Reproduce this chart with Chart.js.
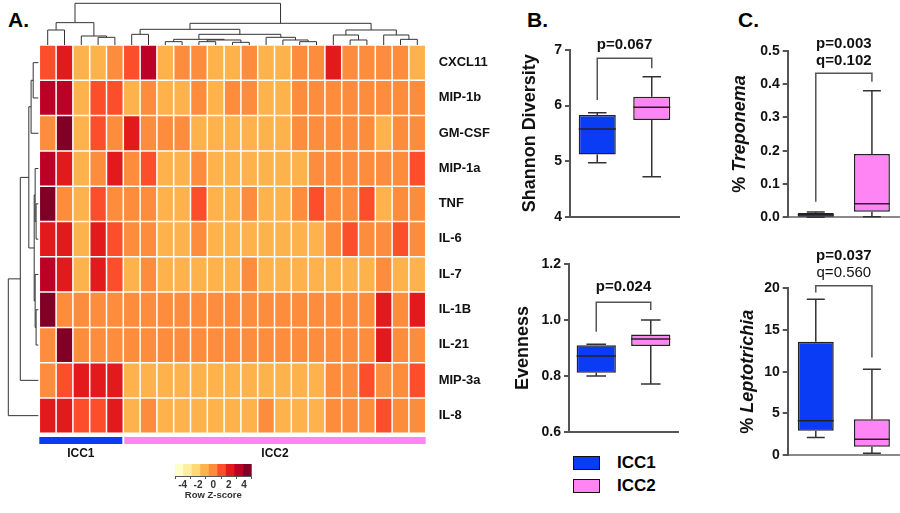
<!DOCTYPE html>
<html><head><meta charset="utf-8">
<script src="https://cdn.jsdelivr.net/npm/chart.js@4.4.1/dist/chart.umd.min.js"></script>
<style>
body{margin:0;background:#fff;width:900px;height:513px;overflow:hidden;position:relative;font-family:'Liberation Sans',Arial,sans-serif}
canvas{position:absolute}
.lbl{position:absolute;font-weight:bold;color:#000;line-height:21px;white-space:nowrap}
.sw{position:absolute;width:27px;height:14px;border:1.5px solid #111;box-sizing:border-box}
</style></head><body>
<div class="lbl" style="left:8px;top:9px;font-size:21px">A.</div>
<div class="lbl" style="left:527px;top:9px;font-size:21px">B.</div>
<div class="lbl" style="left:738px;top:9px;font-size:21px">C.</div>

<canvas id="heat" width="490" height="513" style="left:0;top:0;width:490px;height:513px"></canvas>
<canvas id="zleg" width="130" height="58" style="left:150px;top:455px;width:130px;height:58px"></canvas>
<canvas id="bTop" width="200" height="200" style="left:490px;top:30px;width:200px;height:200px"></canvas>
<canvas id="bBot" width="200" height="210" style="left:490px;top:240px;width:200px;height:210px"></canvas>
<canvas id="cTop" width="210" height="200" style="left:690px;top:30px;width:210px;height:200px"></canvas>
<canvas id="cBot" width="210" height="230" style="left:690px;top:240px;width:210px;height:230px"></canvas>

<div class="sw" style="left:573px;top:456px;background:#0a3cf5"></div>
<div class="lbl" style="left:617px;top:452px;font-size:17px">ICC1</div>
<div class="sw" style="left:573px;top:479px;background:#ff85f5"></div>
<div class="lbl" style="left:617px;top:475px;font-size:17px">ICC2</div>

<script>
const FF = "'Liberation Sans', Arial, sans-serif";
Chart.defaults.font.family = FF;

// ---------- Panel A data ----------
const rowLabels = ['CXCL11','MIP-1b','GM-CSF','MIP-1a','TNF','IL-6','IL-7','IL-1B','IL-21','MIP-3a','IL-8'];
const sampleGroup = ['ICC1','ICC1','ICC1','ICC1','ICC1',
  'ICC2','ICC2','ICC2','ICC2','ICC2','ICC2','ICC2','ICC2','ICC2','ICC2','ICC2','ICC2','ICC2','ICC2','ICC2','ICC2','ICC2','ICC2'];
const zCXCL11 = [0.9,1.8,-0.9,-0.9,0, 0.9,2.7,-0.9,0,0, -0.9,-0.9,0,-0.9,-0.9, 0,0,1.8,0,0, 0,0,-0.9];
const zMIP1b  = [2.7,2.7,-0.9,0.9,0.9, -0.9,0,-0.9,-0.9,0, -0.9,0,0,-0.9,-0.9, 0,0,0,0,0, 0,0,0];
const zGMCSF  = [0,3.6,-0.9,0.9,0, 1.8,0,0,0,-0.9, -0.9,-0.9,-0.9,-0.9,-0.9, 0,0,0,0,0, -0.9,0,0];
const zMIP1a  = [2.7,1.8,-0.9,0,1.8, 0,0.9,-0.9,-0.9,0, -0.9,-0.9,-0.9,-0.9,-0.9, -0.9,0,0,0,0, 0,0,0.9];
const zTNF    = [3.6,0,-0.9,0.9,0, 0,0,-0.9,-0.9,0.9, -0.9,-0.9,0,-0.9,-0.9, 0,0.9,0,0,0.9, -0.9,0,0];
const zIL6    = [1.8,1.8,-0.9,1.8,0.9, 0,0,-0.9,-0.9,0, -0.9,-0.9,-0.9,-0.9,-0.9, -0.9,-0.9,0,0.9,0, 0,0.9,0];
const zIL7    = [2.7,1.8,-0.9,1.8,0.9, -0.9,0,-0.9,-0.9,-0.9, -0.9,-0.9,0,-0.9,-0.9, -0.9,-0.9,-0.9,-0.9,-0.9, 0,-0.9,-0.9];
const zIL1B   = [3.6,0,0,0,0, 0,0,0,0,0, 0,0,0,0,0, 0,0,0,0,0, 1.8,0,1.8];
const zIL21   = [0,3.6,0,0,0, 0,0,0,0,0, 0,0,0,0,0, 0,0,0,0,0, 1.8,0,0];
const zMIP3a  = [0,0.9,1.8,1.8,1.8, -0.9,-0.9,-0.9,-0.9,-0.9, -0.9,-0.9,-0.9,-0.9,-0.9, -0.9,-0.9,0,0,0.9, 0,0,0.9];
const zIL8    = [1.8,1.8,0.9,0.9,1.8, -0.9,0,-0.9,-0.9,-0.9, -0.9,-0.9,-0.9,0,-0.9, -0.9,-0.9,0,0,0, 0.9,0,0];
const zRows = [zCXCL11,zMIP1b,zGMCSF,zMIP1a,zTNF,zIL6,zIL7,zIL1B,zIL21,zMIP3a,zIL8];

// hierarchical clustering trees: [height, left, right], leaves = index
const colTree = [1.0,
  [0.536, [0.36,0,1], [0.216,2,[0.184,3,4]]],
  [0.52,
    [0.376, [0.256,5,6],
      [0.256,
        [0.136,[0.08,7,8],[0.12,[0.08,9,10],[0.064,11,12]]],
        [0.184,13,[0.12,14,[0.08,15,16]]]]],
    [0.36, [0.24,17,[0.12,18,19]], [0.24,20,[0.136,21,22]]]]];
const rowTree = [1.0,
  [0.6,
    [0.316, [0.24,[0.17,0,1],2],
      [0.137,[0.105,3,[0.074,4,5]],[0.105,6,[0.074,7,8]]]],
    9],
  10];

const zTickLabels = [-4,-2,0,2,4];
const zColors = ['#ffffcc','#ffeda0','#fed976','#feb24c','#fd8d3c','#fc4e2a','#e31a1c','#bd0026','#800026'];
const groupColors = {ICC1:'#0a3cf5', ICC2:'#ff85f5'};

// ---------- Panel B / C data: [min, q1, median, q3, max] ----------
const groups = ['ICC1','ICC2'];
const shannonICC1 = [4.97, 5.12, 5.58, 5.83, 5.87];
const shannonICC2 = [4.72, 5.74, 5.97, 6.16, 6.52];
const evenICC1 = [0.800, 0.811, 0.871, 0.910, 0.913];
const evenICC2 = [0.771, 0.907, 0.932, 0.948, 1.000];
const trepICC1 = [0.000, 0.002, 0.008, 0.013, 0.016];
const trepICC2 = [0.002, 0.017, 0.041, 0.190, 0.380];
const leptICC1 = [2.1, 2.9, 4.1, 13.6, 18.7];
const leptICC2 = [0.2, 1.0, 1.9, 4.3, 10.3];

function zColor(z){
  let i = Math.floor((z+4)/8*zColors.length);
  return zColors[Math.max(0,Math.min(zColors.length-1,i))];
}

function layoutTree(node, pos){
  if(typeof node === 'number') return {p:pos(node), h:0};
  const a = layoutTree(node[1], pos), b = layoutTree(node[2], pos);
  return {p:(a.p+b.p)/2, h:node[0], kids:[a,b]};
}

const heatDecor = {
  id:'heatDecor',
  afterDraw(chart){
    const ctx = chart.ctx, ca = chart.chartArea, xs = chart.scales.x, ys = chart.scales.y;
    ctx.save();
    ctx.strokeStyle = '#333'; ctx.lineWidth = 1;
    // column dendrogram
    const topY = 3.3;
    const yOf = h => ca.top - h*(ca.top-topY);
    const ct = layoutTree(colTree, i => xs.getPixelForValue(i));
    (function draw(n){
      if(!n.kids) return;
      const y = yOf(n.h);
      ctx.beginPath();
      ctx.moveTo(n.kids[0].p, yOf(n.kids[0].h)); ctx.lineTo(n.kids[0].p, y);
      ctx.lineTo(n.kids[1].p, y); ctx.lineTo(n.kids[1].p, yOf(n.kids[1].h));
      ctx.stroke();
      n.kids.forEach(draw);
    })(ct);
    // row dendrogram
    const leftX = 8.3;
    const xOf = h => ca.left - 1 - h*(ca.left-1-leftX);
    const rt = layoutTree(rowTree, i => ys.getPixelForValue(i+0.5));
    (function draw(n){
      if(!n.kids) return;
      const x = xOf(n.h);
      ctx.beginPath();
      ctx.moveTo(xOf(n.kids[0].h), n.kids[0].p); ctx.lineTo(x, n.kids[0].p);
      ctx.lineTo(x, n.kids[1].p); ctx.lineTo(xOf(n.kids[1].h), n.kids[1].p);
      ctx.stroke();
      n.kids.forEach(draw);
    })(rt);
    // row labels (slightly wide lettering as in the figure)
    ctx.fillStyle = '#111'; ctx.font = 'bold 12px '+FF;
    ctx.textAlign = 'left'; ctx.textBaseline = 'middle';
    rowLabels.forEach((l,i)=>{
      ctx.save();
      ctx.translate(ca.right+13, ys.getPixelForValue(i+0.5));
      ctx.scale(1.08, 1);
      ctx.fillText(l, 0, 0);
      ctx.restore();
    });
    // group bars
    const half = (xs.getPixelForValue(1)-xs.getPixelForValue(0))/2;
    const gs = [...new Set(sampleGroup)];
    gs.forEach(g=>{
      const idx = sampleGroup.map((s,i)=>s===g?i:-1).filter(i=>i>=0);
      const x0 = xs.getPixelForValue(idx[0])-half + (idx[0]>0?1:0);
      const x1 = xs.getPixelForValue(idx[idx.length-1])+half - (idx[idx.length-1]<sampleGroup.length-1?1:0);
      ctx.fillStyle = groupColors[g];
      ctx.fillRect(x0, ca.bottom+3.7, x1-x0, 7);
      ctx.fillStyle = '#111'; ctx.font = 'bold 12px '+FF; ctx.textAlign='center';
      ctx.fillText(g, (x0+x1)/2, ca.bottom+20);
    });
    ctx.restore();
  }
};

new Chart(document.getElementById('heat'), {
  type:'bar',
  data:{
    labels: sampleGroup.map((g,i)=>g+'_'+(i+1)),
    datasets: zRows.map((r,i)=>({
      label: rowLabels[i],
      data: r.map(()=>1),
      backgroundColor: r.map(zColor),
      borderColor:'#ffffff', borderWidth:0.75, borderSkipped:false,
      barPercentage:1, categoryPercentage:1, inflateAmount:0
    }))
  },
  options:{
    responsive:false, animation:false, events:[],
    layout:{padding:{left:39.3,right:64.3,top:45,bottom:79.7}},
    plugins:{legend:{display:false}, tooltip:{enabled:false}},
    scales:{
      x:{stacked:true, display:false},
      y:{stacked:true, display:false, min:0, max:11, reverse:true}
    }
  },
  plugins:[heatDecor]
});

// colour key
new Chart(document.getElementById('zleg'), {
  type:'bar',
  data:{labels: zColors.map((c,i)=>i), datasets:[{data: zColors.map(()=>1), backgroundColor: zColors,
    barPercentage:1, categoryPercentage:1, borderWidth:0}]},
  options:{
    responsive:false, animation:false, events:[],
    layout:{padding:{left:25,right:28.3,top:9,bottom:12}},
    plugins:{legend:{display:false}, tooltip:{enabled:false}},
    scales:{
      x:{display:false},
      y:{display:false, min:0, max:1},
      z:{type:'linear', axis:'x', position:'bottom', min:zTickLabels[0], max:zTickLabels[zTickLabels.length-1],
        ticks:{stepSize:2, font:{size:10, weight:'bold'}, color:'#333', padding:0, maxRotation:0},
        grid:{drawOnChartArea:false, tickLength:3, color:'#555'},
        border:{color:'#555'},
        title:{display:true, text:'Row Z-score', font:{size:9.5, weight:'bold'}, color:'#333', padding:{top:0,bottom:0}},
        afterFit:s=>{s.height=25;}}
    }
  }
});

// ---------- box plots ----------
function drawRotTitle(ctx, parts, cx, cy){
  ctx.save(); ctx.translate(cx, cy); ctx.rotate(-Math.PI/2);
  ctx.textBaseline='middle'; ctx.fillStyle='#111'; ctx.textAlign='left';
  const fonts = parts.map(p=>(p.i?'italic ':'')+'bold 18px '+FF);
  let total=0;
  parts.forEach((p,k)=>{ctx.font=fonts[k]; total+=ctx.measureText(p.t).width;});
  let x=-total/2;
  parts.forEach((p,k)=>{ctx.font=fonts[k]; ctx.fillText(p.t,x,0); x+=ctx.measureText(p.t).width;});
  ctx.restore();
}

function boxChart(id, p){
  const decor = {
    id:'boxDecor'+id,
    afterDatasetsDraw(chart){
      const ctx = chart.ctx, ys = chart.scales.y, ca = chart.chartArea;
      const els = chart.getDatasetMeta(0).data;
      ctx.save();
      els.forEach((el,i)=>{
        const s = p.stats[i];
        const x = el.x, w = el.width, cap = w*0.25;
        ctx.strokeStyle = '#333'; ctx.lineWidth = 1.5;
        ctx.beginPath();
        ctx.moveTo(x, ys.getPixelForValue(s[3])); ctx.lineTo(x, ys.getPixelForValue(s[4]));
        ctx.moveTo(x-cap, ys.getPixelForValue(s[4])); ctx.lineTo(x+cap, ys.getPixelForValue(s[4]));
        ctx.moveTo(x, ys.getPixelForValue(s[1])); ctx.lineTo(x, ys.getPixelForValue(s[0]));
        ctx.moveTo(x-cap, ys.getPixelForValue(s[0])); ctx.lineTo(x+cap, ys.getPixelForValue(s[0]));
        ctx.stroke();
        ctx.strokeStyle = '#222';
        ctx.beginPath();
        ctx.moveTo(x-w/2, ys.getPixelForValue(s[2])); ctx.lineTo(x+w/2, ys.getPixelForValue(s[2]));
        ctx.stroke();
      });
      // significance bracket
      const b = p.bracket, xl = els[0].x, xr = els[1].x, yt = ys.getPixelForValue(b[0]);
      ctx.strokeStyle = '#555'; ctx.lineWidth = 1.5;
      ctx.beginPath();
      ctx.moveTo(xl, ys.getPixelForValue(b[1])); ctx.lineTo(xl, yt);
      ctx.lineTo(xr, yt); ctx.lineTo(xr, ys.getPixelForValue(b[2]));
      ctx.stroke();
      ctx.fillStyle = '#111'; ctx.textAlign='center'; ctx.textBaseline='middle';
      p.notes.forEach(n=>{
        ctx.font = (n.bold?'bold ':'')+'15px '+FF;
        ctx.fillText(n.t, (xl+xr)/2, yt+n.dy);
      });
      drawRotTitle(ctx, p.title, p.titleX, (ca.top+ca.bottom)/2);
      ctx.restore();
    }
  };
  return new Chart(document.getElementById(id), {
    type:'bar',
    data:{labels:groups, datasets:[{
      data: p.stats.map(s=>[s[1],s[3]]),
      backgroundColor: groups.map(g=>groupColors[g]),
      borderColor:'#222', borderWidth:1.5, borderSkipped:false,
      barPercentage:p.barPct, categoryPercentage:1, inflateAmount:0
    }]},
    options:{
      responsive:false, animation:false, events:[],
      layout:{padding:p.pad},
      plugins:{legend:{display:false}, tooltip:{enabled:false}},
      scales:{
        x:{grid:{display:false}, ticks:{display:false},
           border:{display:true, color:p.dashed?'#8a8a8a':'#555', width:2, dash:p.dashed?[3,2]:[]},
           afterFit:s=>{s.height=0;}},
        y:{min:p.min, max:p.max,
           ticks:{stepSize:p.step, font:{size:14, weight:'bold'}, color:'#111', padding:3,
                  callback:v=>Number(v).toFixed(p.dec)},
           grid:{drawOnChartArea:false, tickLength:5, color:'#555', lineWidth:2},
           border:{color:'#555', width:2},
           afterFit:s=>{s.width=p.axisW;}}
      }
    },
    plugins:[decor]
  });
}

boxChart('bTop', {stats:[shannonICC1, shannonICC2], min:4, max:7, step:1, dec:0,
  pad:{left:0,top:20,right:11,bottom:13.3}, axisW:80, barPct:0.68,
  bracket:[6.85, 6.10, 6.67], notes:[{t:'p=0.067', bold:true, dy:-13}],
  title:[{t:'Shannon Diversity'}], titleX:40});
boxChart('bBot', {stats:[evenICC1, evenICC2], min:0.6, max:1.2, step:0.2, dec:1,
  pad:{left:0,top:24.3,right:12,bottom:18.3}, axisW:79, barPct:0.72,
  bracket:[1.064, 0.958, 1.036], notes:[{t:'p=0.024', bold:true, dy:-15.5}],
  title:[{t:'Evenness'}], titleX:33});
boxChart('cTop', {stats:[trepICC1, trepICC2], min:0, max:0.5, step:0.1, dec:1,
  pad:{left:0,top:20.7,right:0,bottom:12.7}, axisW:97.7, barPct:0.64, dashed:true,
  bracket:[0.432, 0.047, 0.407], notes:[{t:'p=0.003', bold:true, dy:-29.3},{t:'q=0.102', bold:true, dy:-12.6}],
  title:[{t:'% '},{t:'Treponema', i:true}], titleX:50});
boxChart('cBot', {stats:[leptICC1, leptICC2], min:0, max:20, step:5, dec:0,
  pad:{left:0,top:48.3,right:0,bottom:15}, axisW:97.7, barPct:0.64, dashed:true,
  bracket:[20.3, 19.5, 11.7], notes:[{t:'p=0.037', bold:true, dy:-29.7},{t:'q=0.560', bold:false, dy:-13}],
  title:[{t:'% '},{t:'Leptotrichia', i:true}], titleX:58});
</script>
</body></html>
